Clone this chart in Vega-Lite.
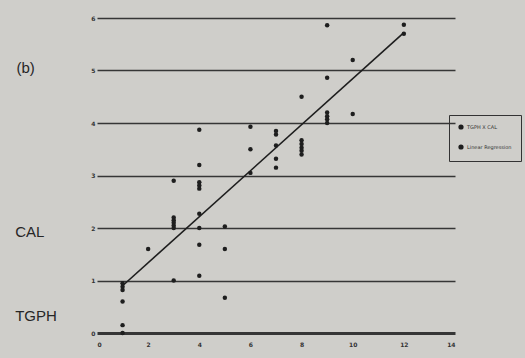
{
  "$schema": "https://vega.github.io/schema/vega-lite/v6.json",
  "width": 358,
  "height": 315,
  "autosize": {"type": "none"},
  "padding": {"left": 97, "top": 18, "right": 70, "bottom": 25},
  "background": "#cfceca",
  "config": {"view": {"stroke": null}, "font": "DejaVu Sans"},
  "datasets": {
    "points": [
      {"x": 1, "y": 0.95}, {"x": 1, "y": 0.88}, {"x": 1, "y": 0.82}, {"x": 1, "y": 0.6}, {"x": 1, "y": 0.15}, {"x": 1, "y": 0},
      {"x": 2, "y": 1.6},
      {"x": 3, "y": 2.9}, {"x": 3, "y": 2.2}, {"x": 3, "y": 2.15}, {"x": 3, "y": 2.1}, {"x": 3, "y": 2.05}, {"x": 3, "y": 2.0}, {"x": 3, "y": 1.0},
      {"x": 4, "y": 3.87}, {"x": 4, "y": 3.2}, {"x": 4, "y": 2.87}, {"x": 4, "y": 2.81}, {"x": 4, "y": 2.75}, {"x": 4, "y": 2.27}, {"x": 4, "y": 2.0}, {"x": 4, "y": 1.68}, {"x": 4, "y": 1.09},
      {"x": 5, "y": 2.03}, {"x": 5, "y": 1.6}, {"x": 5, "y": 0.67},
      {"x": 6, "y": 3.93}, {"x": 6, "y": 3.5}, {"x": 6, "y": 3.05},
      {"x": 7, "y": 3.85}, {"x": 7, "y": 3.78}, {"x": 7, "y": 3.57}, {"x": 7, "y": 3.32}, {"x": 7, "y": 3.15},
      {"x": 8, "y": 4.5}, {"x": 8, "y": 3.67}, {"x": 8, "y": 3.6}, {"x": 8, "y": 3.53}, {"x": 8, "y": 3.47}, {"x": 8, "y": 3.4},
      {"x": 9, "y": 5.86}, {"x": 9, "y": 4.86}, {"x": 9, "y": 4.2}, {"x": 9, "y": 4.13}, {"x": 9, "y": 4.07}, {"x": 9, "y": 4.0},
      {"x": 10, "y": 5.2}, {"x": 10, "y": 4.17},
      {"x": 12, "y": 5.87}, {"x": 12, "y": 5.7}
    ],
    "fit": [
      {"x": 1, "y": 0.9, "series": "Linear Regression"},
      {"x": 12, "y": 5.72, "series": "Linear Regression"}
    ],
    "notes": [
      {"x": -3.15, "y": 5.05, "label": "(b)"},
      {"x": -3.2, "y": 1.92, "label": "CAL"},
      {"x": -3.2, "y": 0.32, "label": "TGPH"}
    ]
  },
  "layer": [
    {
      "data": {"name": "points"},
      "transform": [{"calculate": "'TGPH X CAL'", "as": "series"}],
      "mark": {"type": "circle", "size": 20, "opacity": 1},
      "encoding": {
        "x": {
          "field": "x", "type": "quantitative",
          "scale": {"domain": [0, 14], "nice": false},
          "axis": {
            "values": [0, 2, 4, 6, 8, 10, 12, 14],
            "grid": false, "domain": false, "ticks": false,
            "labelFontSize": 6, "labelFontWeight": "bold", "labelColor": "#333",
            "labelPadding": 8, "title": null
          }
        },
        "y": {
          "field": "y", "type": "quantitative",
          "scale": {"domain": [0, 6], "nice": false},
          "axis": {
            "values": [0, 1, 2, 3, 4, 5, 6],
            "grid": true, "gridColor": "#363636",
            "gridWidth": {"condition": {"test": "datum.value === 0", "value": 3}, "value": 1.6},
            "gridOpacity": 1,
            "domain": false, "ticks": false,
            "labelFontSize": 6, "labelFontWeight": "bold", "labelColor": "#333",
            "labelPadding": 2, "title": null
          }
        },
        "color": {
          "field": "series", "type": "nominal",
          "scale": {"domain": ["TGPH X CAL", "Linear Regression"], "range": ["#1e1e1e", "#1e1e1e"]},
          "legend": {
            "orient": "none", "legendX": 352, "legendY": 97,
            "title": null, "symbolType": "circle", "symbolSize": 14,
            "labelFontSize": 5, "labelColor": "#333", "labelOffset": 3,
            "strokeColor": "#333", "padding": 9, "rowPadding": 10
          }
        }
      }
    },
    {
      "data": {"name": "fit"},
      "mark": {"type": "line", "strokeWidth": 1.6},
      "encoding": {
        "x": {"field": "x", "type": "quantitative"},
        "y": {"field": "y", "type": "quantitative"},
        "color": {"field": "series", "type": "nominal"}
      }
    },
    {
      "data": {"name": "notes"},
      "mark": {"type": "text", "align": "left", "baseline": "middle", "fontSize": 15, "color": "#262626", "font": "Liberation Sans"},
      "encoding": {
        "x": {"field": "x", "type": "quantitative"},
        "y": {"field": "y", "type": "quantitative"},
        "text": {"field": "label"}
      }
    }
  ]
}
